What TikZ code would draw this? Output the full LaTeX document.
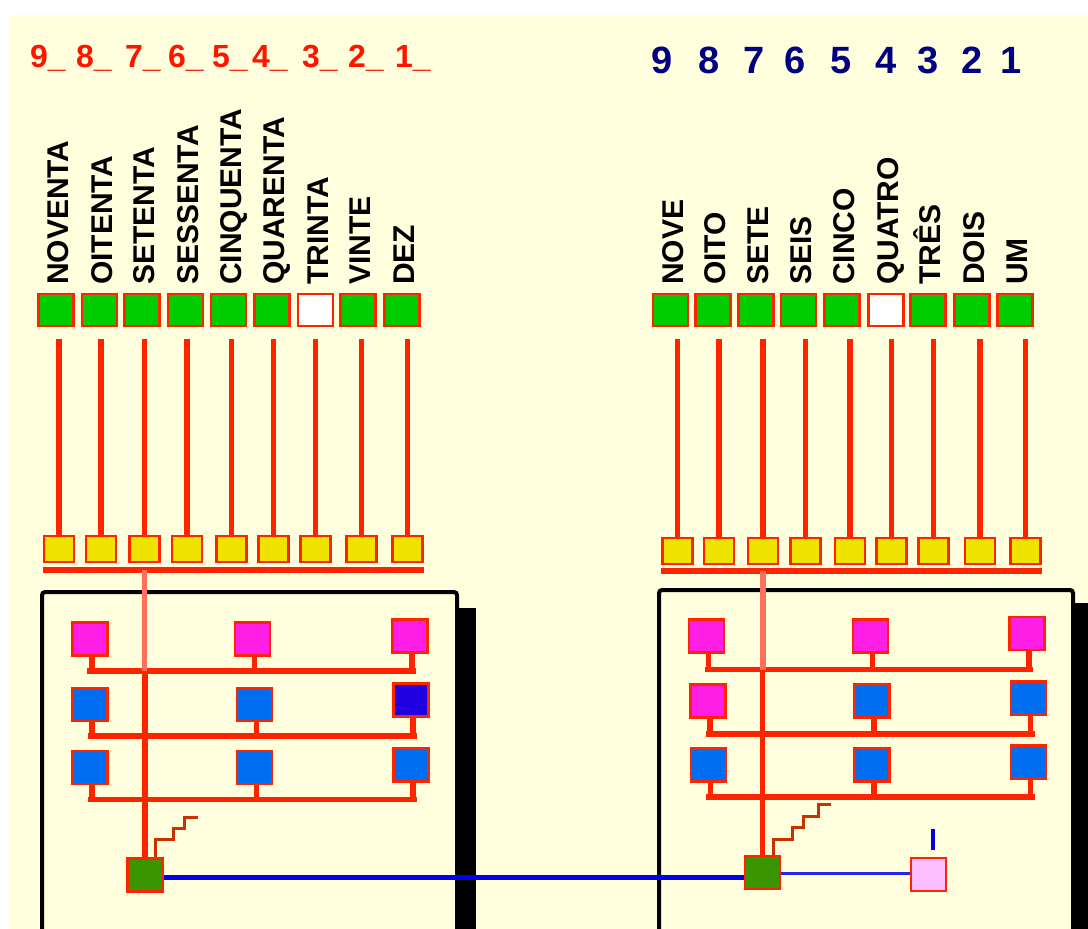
\documentclass[tikz,border=0pt]{standalone}
\usepackage{fontspec}
\setmainfont{Liberation Sans}
\definecolor{bg}{RGB}{255,255,221}
\definecolor{sqred}{RGB}{255,36,0}
\definecolor{salmon}{RGB}{255,112,92}
\definecolor{sqgreen}{RGB}{0,204,0}
\definecolor{sqyellow}{RGB}{238,228,0}
\definecolor{sqmag}{RGB}{255,30,230}
\definecolor{sqblue}{RGB}{0,110,240}
\definecolor{sqdark}{RGB}{32,0,224}
\definecolor{hubgreen}{RGB}{58,150,0}
\definecolor{pinkbox}{RGB}{255,190,255}
\definecolor{zigred}{RGB}{200,50,0}
\definecolor{linkblue}{RGB}{0,0,235}
\definecolor{navy}{RGB}{0,0,128}
\definecolor{digred}{RGB}{255,20,0}
\begin{document}
\begin{tikzpicture}[x=1pt,y=1pt,
  sqbase/.style={draw=sqred,line width=2.4pt,inner sep=0pt,anchor=center},
  keysq/.style={sqbase,minimum width=35pt,minimum height=32pt},
  padsq/.style={sqbase,fill=sqyellow,minimum width=30pt,minimum height=26pt},
  unitsq/.style={sqbase,minimum width=35pt,minimum height=33pt},
  wire/.style={draw=sqred,line width=5.5pt},
  busbar/.style={draw=sqred,line width=6pt},
  paleline/.style={draw=salmon,line width=5.5pt},
  stair/.style={draw=zigred,line width=3pt},
  word/.style={rotate=90,anchor=base west,inner sep=0pt,font=\bfseries\fontsize{30}{30}\selectfont},
  reddigit/.style={anchor=base west,inner sep=0pt,text=digred,font=\bfseries\fontsize{32}{32}\selectfont},
  bluedigit/.style={anchor=base,inner sep=0pt,text=navy,font=\bfseries\fontsize{38}{38}\selectfont},
  panel/.style={draw=black,line width=4pt,fill=bg,rounded corners=3pt}]
\useasboundingbox (0,0) rectangle (1088,-929);
\fill[white] (0,0) rectangle (1088,-929);
\fill[bg] (9,-15) rectangle (1088,-929);

% digit headers
\foreach \x/\d [count=\i] in {30/9,76/8,125/7,168/6,212/5,252/4,302/3,348/2,395/1}
  \node[reddigit] (rd\i) at (\x,-67.5) {\d\_};
\foreach \x/\d [count=\i] in {662.5/9,709.5/8,754/7,795.5/6,841/5,886/4,928/3,972/2,1011/1}
  \node[bluedigit] (bd\i) at (\x,-73) {\d};

% panels with their dark side shadows
\draw[panel] (42,-592) rectangle (457,-940);
\fill[black] (459,-608) rectangle (476,-935);
\draw[panel] (659,-590) rectangle (1073,-940);
\fill[black] (1075,-603) rectangle (1095,-935);

% tens keys
\foreach \x/\c/\w [count=\i] in {56/sqgreen/NOVENTA,99.5/sqgreen/OITENTA,142/sqgreen/SETENTA,
    185.5/sqgreen/SESSENTA,228.5/sqgreen/CINQUENTA,272/sqgreen/QUARENTA,315.5/white/TRINTA,
    358/sqgreen/VINTE,402/sqgreen/DEZ}{
  \node[keysq,fill=\c] (ga\i) at (\x,-310) {};
  \node[word] (ta\i) at (\x+12.5,-285) {\w};
}
% units keys
\foreach \x/\c/\w [count=\i] in {670.5/sqgreen/NOVE,713/sqgreen/OITO,756/sqgreen/SETE,
    798.5/sqgreen/SEIS,842/sqgreen/CINCO,886/white/QUATRO,928/sqgreen/TRÊS,
    972/sqgreen/DOIS,1015/sqgreen/UM}{
  \node[keysq,fill=\c] (gb\i) at (\x,-310) {};
  \node[word] (tb\i) at (\x+12.5,-285) {\w};
}

% contact pads
\foreach \x [count=\i] in {59,101,144.5,187,231.5,273.5,315.5,361.5,407.5}
  \node[padsq] (ya\i) at (\x,-549) {};
\foreach \x [count=\i] in {677.5,719,763,805.5,850,891.5,933.5,980,1025.5}
  \node[padsq] (yb\i) at (\x,-551) {};

% key lines down to the pads
\foreach \i in {1,...,9}{
  \draw[wire] (ya\i.north) -- ([yshift=-12pt]ya\i.north |- ga\i.south);
  \draw[wire] (yb\i.north) -- ([yshift=-12pt]yb\i.north |- gb\i.south);
}
% pad buses
\draw[busbar] ([yshift=-6.5pt]ya1.south west) -- ([yshift=-6.5pt]ya9.south east);
\draw[busbar] ([yshift=-6pt]yb1.south west) -- ([yshift=-6pt]yb9.south east);

% left panel
\coordinate (ra1) at (87,-671);   \coordinate (ra2) at (416,-671);
\coordinate (rb1) at (88,-736);   \coordinate (rb2) at (417,-736);
\coordinate (rc1) at (88,-799.5); \coordinate (rc2) at (417,-799.5);
\node[unitsq,fill=hubgreen] (hl) at (145,-875) {};
\draw[wire] (ra1) -- (ra2);
\draw[wire] (rb1) -- (rb2);
\draw[wire] (rc1) -- (rc2);
\draw[paleline] ([yshift=-6.5pt]ya3.south) -- (ya3.south |- ra1);
\draw[wire] (hl.north |- ra1) -- (hl.north);
\draw[stair] ([xshift=10pt]hl.north) -- ++(0,18) -- ++(18,0) -- ++(0,11) -- ++(11,0) -- ++(0,11) -- ++(14,0);
\foreach \n/\x/\y/\c/\r in {a1/90/-639/sqmag/ra1, a2/252.5/-639/sqmag/ra1, a3/410/-636/sqmag/ra1,
    b1/90/-704.5/sqblue/rb1, b2/254.5/-704.5/sqblue/rb1, b3/411/-700/sqdark/rb1,
    c1/90/-767.5/sqblue/rc1, c2/254.5/-767.5/sqblue/rc1, c3/411/-765/sqblue/rc1}{
  \draw[wire] (\x+2,\y) -- (\x+2,\y |- \r);
  \node[unitsq,fill=\c] (u\n) at (\x,\y) {};
}

% right panel
\coordinate (sa1) at (705,-669.5); \coordinate (sa2) at (1033,-669.5);
\coordinate (sb1) at (706,-734);   \coordinate (sb2) at (1035,-734);
\coordinate (sc1) at (706,-797);   \coordinate (sc2) at (1035,-797);
\node[unitsq,fill=hubgreen] (hr) at (762.5,-872.5) {};
\node[unitsq,fill=pinkbox] (pk) at (928.5,-874.5) {};
\draw[wire] (sa1) -- (sa2);
\draw[wire] (sb1) -- (sb2);
\draw[wire] (sc1) -- (sc2);
\draw[paleline] ([yshift=-6pt]yb3.south) -- (yb3.south |- sa1);
\draw[wire] (hr.north |- sa1) -- (hr.north);
\draw[stair] ([xshift=10.5pt]hr.north) -- ++(0,15) -- ++(19,0) -- ++(0,12) -- ++(11,0) -- ++(0,11) -- ++(15,0) -- ++(0,12) -- ++(13,0);
\foreach \n/\x/\y/\c/\r in {d1/706.5/-636/sqmag/sa1, d2/870.5/-636/sqmag/sa1, d3/1027/-633.5/sqmag/sa1,
    e1/708/-701/sqmag/sb1, e2/872/-701/sqblue/sb1, e3/1028.5/-698/sqblue/sb1,
    f1/708.5/-765/sqblue/sc1, f2/872/-765/sqblue/sc1, f3/1028.5/-762/sqblue/sc1}{
  \draw[wire] (\x+2,\y) -- (\x+2,\y |- \r);
  \node[unitsq,fill=\c] (v\n) at (\x,\y) {};
}

% links between the hubs and the output
\draw[draw=linkblue,line width=5pt] ([yshift=-2.5pt]hl.east) -- ([yshift=-2.5pt]hl.east -| hr.west);
\draw[draw=linkblue!85!white,line width=3pt] ([yshift=-1pt]hr.east) -- ([yshift=-1pt]hr.east -| pk.west);
\draw[draw=linkblue,line width=3.5pt] ([xshift=4.5pt,yshift=7pt]pk.north) -- ++(0,21);
\end{tikzpicture}
\end{document}
